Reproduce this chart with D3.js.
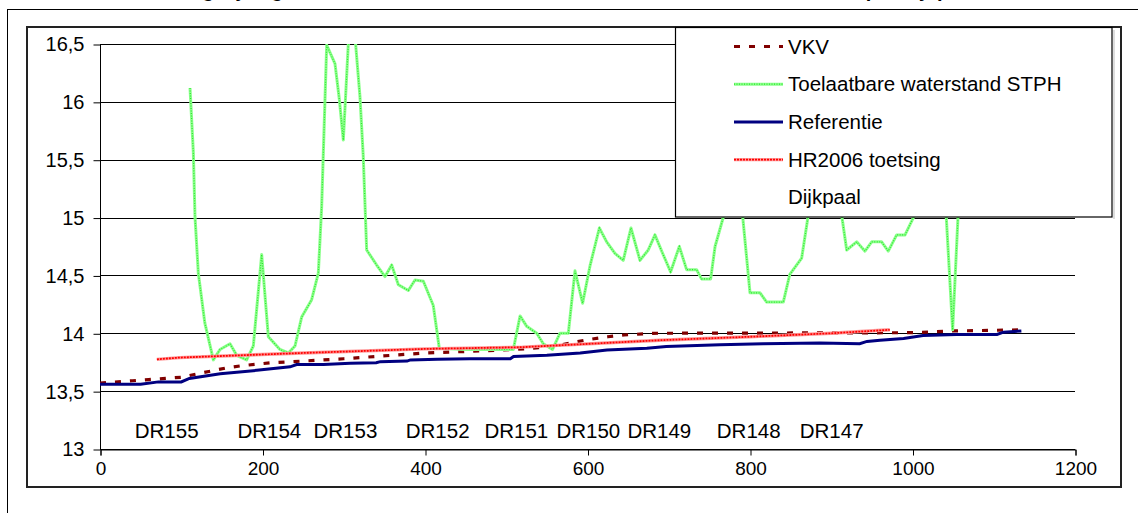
<!DOCTYPE html>
<html>
<head>
<meta charset="utf-8">
<script src="https://cdn.jsdelivr.net/npm/d3@7"></script>
<style>
  html, body { margin: 0; padding: 0; background: #fff; }
  svg { display: block; font-family: "Liberation Sans", Arial, sans-serif; }
</style>
</head>
<body>
<svg id="chart" width="1138" height="513"></svg>
<script>
// ---------- DATA ----------
const titleText = "Vergelijking waterstanden HR2006, VKV en toelaatbare waterstand STPH per dijkpaal";

const xTicks = [0, 200, 400, 600, 800, 1000, 1200];
const yTicks = [13, 13.5, 14, 14.5, 15, 15.5, 16, 16.5];
const yTickLabels = ["13", "13,5", "14", "14,5", "15", "15,5", "16", "16,5"];

const vkvX = [0, 40, 60, 100, 120, 155, 175, 210, 250, 300, 340, 380, 400, 460, 510, 540, 560, 585, 605, 625, 645, 680, 1000, 1050, 1135];
const vkvY = [13.57, 13.59, 13.60, 13.62, 13.65, 13.70, 13.72, 13.745, 13.76, 13.78, 13.80, 13.82, 13.83, 13.845, 13.86, 13.875, 13.89, 13.925, 13.95, 13.97, 13.985, 14.0, 14.005, 14.02, 14.03];

const stphX = [110.8, 114.9, 116.9, 121, 129, 139.5, 147.7, 160, 168.2, 180.5, 188.7, 199, 207.2, 221.5, 231.8, 240, 248.2, 260.5, 268.7, 272.8, 279, 289.2, 294.6, 299.5, 305.6, 310, 314.6, 320, 324, 328.2, 340.5, 350.8, 359, 367.2, 379.5, 387.7, 398, 410.2, 417.6, 450, 480, 508.7, 517, 525.2, 537.5, 545.6, 557, 566, 576.4, 584.6, 594, 603, 614.6, 623.6, 633.8, 644, 653.5, 664.6, 674.8, 683, 691.3, 702.3, 713, 722, 734.3, 740.3, 751.6, 757, 785, 800, 812.3, 820.5, 841, 849, 863.6, 880, 905, 919, 931.3, 941.5, 949.8, 962, 970.2, 980.5, 990.8, 1015, 1040, 1049.4, 1058, 1090, 1134];
const stphY = [16.12, 15.56, 15.01, 14.52, 14.09, 13.77, 13.86, 13.91, 13.81, 13.77, 13.89, 14.68, 13.97, 13.86, 13.83, 13.89, 14.14, 14.29, 14.52, 15.09, 16.49, 16.33, 16.02, 15.67, 16.5, 16.8, 16.5, 16.04, 15.53, 14.72, 14.59, 14.49, 14.59, 14.42, 14.37, 14.46, 14.45, 14.24, 13.87, 13.86, 13.86, 13.86, 14.15, 14.06, 14.0, 13.91, 13.86, 14.0, 14.0, 14.54, 14.26, 14.58, 14.91, 14.79, 14.69, 14.63, 14.91, 14.63, 14.72, 14.85, 14.71, 14.53, 14.75, 14.55, 14.55, 14.47, 14.47, 14.75, 15.45, 14.35, 14.35, 14.27, 14.27, 14.51, 14.65, 15.4, 15.4, 14.72, 14.79, 14.71, 14.79, 14.79, 14.71, 14.85, 14.85, 15.2, 15.2, 14.03, 15.3, 15.3, 15.4];

const refX = [0, 50, 72, 100, 110, 148, 193, 234, 242, 275, 308, 340, 345, 378, 382, 415, 455, 505, 509, 550, 591, 624, 673, 697, 763, 816, 886, 935, 944, 960, 989, 1013, 1054, 1104, 1112, 1134];
const refY = [13.56, 13.56, 13.58, 13.58, 13.61, 13.65, 13.68, 13.71, 13.73, 13.73, 13.74, 13.745, 13.755, 13.76, 13.77, 13.775, 13.78, 13.78, 13.80, 13.81, 13.83, 13.855, 13.87, 13.885, 13.90, 13.91, 13.915, 13.91, 13.93, 13.94, 13.955, 13.98, 13.99, 13.99, 14.01, 14.02];

const hrX = [70, 98, 250, 400, 520, 689, 800, 900, 972];
const hrY = [13.775, 13.79, 13.83, 13.865, 13.88, 13.94, 13.97, 14.0, 14.03];

const dijkpaalNames = ["DR155", "DR154", "DR153", "DR152", "DR151", "DR150", "DR149", "DR148", "DR147"];
const dijkpaalX = [82, 208.4, 302, 415.6, 512.4, 601, 688.4, 798.4, 900.5];
const dijkpaalY = [13.155, 13.155, 13.155, 13.155, 13.155, 13.155, 13.155, 13.155, 13.155];

const legendNames = ["VKV", "Toelaatbare waterstand STPH", "Referentie", "HR2006 toetsing", "Dijkpaal"];

// ---------- DRAW ----------
const svg = d3.select("#chart");
const FONT = 19;
const LFONT = 20.5;

const x = d3.scaleLinear().domain([0, 1200]).range([100, 1075]);
const y = d3.scaleLinear().domain([13, 16.5]).range([449, 44]);

// page lines
svg.append("line").attr("x1", 7.5).attr("x2", 7.5).attr("y1", 9).attr("y2", 513).attr("stroke", "#000").attr("stroke-width", 1);
svg.append("line").attr("x1", 7).attr("x2", 1138).attr("y1", 9.5).attr("y2", 9.5).attr("stroke", "#000").attr("stroke-width", 1);

// title (cut off at the top edge, as in the reference)
svg.append("text").attr("x", 574).attr("y", -3).attr("text-anchor", "middle")
  .attr("font-size", 20).attr("font-weight", "bold").attr("fill", "#000").text(titleText);

// chart frame
svg.append("rect").attr("x", 27).attr("y", 27).attr("width", 1094).attr("height", 460)
  .attr("fill", "none").attr("stroke", "#222").attr("stroke-width", 2);

// gridlines
svg.append("g").selectAll("line").data(yTicks).join("line")
  .attr("x1", x(0)).attr("x2", x(1200))
  .attr("y1", d => Math.round(y(d)) + 0.5).attr("y2", d => Math.round(y(d)) + 0.5)
  .attr("stroke", "#000").attr("stroke-width", 1);

// axes
const yAxis = d3.axisLeft(y).tickValues(yTicks)
  .tickFormat((d, i) => yTickLabels[i]).tickSizeOuter(0).tickSize(7).tickPadding(9);
const gy = svg.append("g").attr("transform", "translate(100.5,0.5)").call(yAxis);
const xAxis = d3.axisBottom(x).tickValues(xTicks).tickFormat(d3.format("d")).tickSizeOuter(0).tickSize(6).tickPadding(6);
const gx = svg.append("g").attr("transform", "translate(0.5,449.5)").call(xAxis);
[gx, gy].forEach(g => {
  g.selectAll("path.domain").attr("stroke", "#000");
  g.selectAll(".tick line").attr("stroke", "#000");
  g.selectAll("text").attr("font-size", FONT).attr("fill", "#000")
    .attr("font-family", "'Liberation Sans', Arial, sans-serif");
});
gy.selectAll("text").attr("font-size", 20);
gy.select("path.domain").attr("d", `M0,${y(16.5) - 0.5}V${y(13)}`);

// clip
svg.append("clipPath").attr("id", "plotclip").append("rect")
  .attr("x", x(0)).attr("y", y(16.5)).attr("width", x(1200) - x(0)).attr("height", y(13) - y(16.5));
const plot = svg.append("g").attr("clip-path", "url(#plotclip)");

const line = d3.line().x(d => x(d[0])).y(d => y(d[1]));
const zip = (a, b) => a.map((v, i) => [v, b[i]]);

// VKV
plot.append("path").datum(zip(vkvX, vkvY)).attr("d", line)
  .attr("fill", "none").attr("stroke", "#800000").attr("stroke-width", 3.2).attr("stroke-dasharray", "6,9");
// STPH (textured light green)
const stph = zip(stphX, stphY);
plot.append("path").datum(stph).attr("d", line)
  .attr("fill", "none").attr("stroke", "#8cff8c").attr("stroke-width", 3).attr("stroke-linejoin", "round");
plot.append("path").datum(stph).attr("d", line)
  .attr("fill", "none").attr("stroke", "#2ee62e").attr("stroke-width", 1.2).attr("stroke-dasharray", "1,1.5");
// Referentie
plot.append("path").datum(zip(refX, refY)).attr("d", line)
  .attr("fill", "none").attr("stroke", "#000080").attr("stroke-width", 3);
// HR2006
const hr = zip(hrX, hrY);
plot.append("path").datum(hr).attr("d", line)
  .attr("fill", "none").attr("stroke", "#ff9a9a").attr("stroke-width", 3.4);
plot.append("path").datum(hr).attr("d", line)
  .attr("fill", "none").attr("stroke", "#ff0000").attr("stroke-width", 1.8).attr("stroke-dasharray", "2,1");

// Dijkpaal labels
svg.append("g").selectAll("text").data(dijkpaalNames).join("text")
  .attr("x", (d, i) => x(dijkpaalX[i])).attr("y", (d, i) => y(dijkpaalY[i]))
  .attr("dy", "0.35em").attr("text-anchor", "middle").attr("font-size", LFONT).attr("fill", "#000").text(d => d);

// Legend
const lg = svg.append("g");
lg.append("rect").attr("x", 1113).attr("y", 30).attr("width", 2).attr("height", 189).attr("fill", "#ddd");
lg.append("rect").attr("x", 675.5).attr("y", 27.5).attr("width", 436.5).attr("height", 189.5)
  .attr("fill", "#fff").attr("stroke", "#000").attr("stroke-width", 1.2);
const ly = i => 46.5 + i * 37.7;
const lx1 = 734, lx2 = 783;
lg.append("line").attr("x1", lx1).attr("x2", lx2).attr("y1", ly(0)).attr("y2", ly(0))
  .attr("stroke", "#800000").attr("stroke-width", 3.2).attr("stroke-dasharray", "6,9");
lg.append("line").attr("x1", lx1).attr("x2", lx2).attr("y1", ly(1)).attr("y2", ly(1))
  .attr("stroke", "#8cff8c").attr("stroke-width", 3);
lg.append("line").attr("x1", lx1).attr("x2", lx2).attr("y1", ly(1)).attr("y2", ly(1))
  .attr("stroke", "#2ee62e").attr("stroke-width", 1.2).attr("stroke-dasharray", "1,1.5");
lg.append("line").attr("x1", lx1).attr("x2", lx2).attr("y1", ly(2)).attr("y2", ly(2))
  .attr("stroke", "#000080").attr("stroke-width", 3);
lg.append("line").attr("x1", lx1).attr("x2", lx2).attr("y1", ly(3)).attr("y2", ly(3))
  .attr("stroke", "#ff9a9a").attr("stroke-width", 3.4);
lg.append("line").attr("x1", lx1).attr("x2", lx2).attr("y1", ly(3)).attr("y2", ly(3))
  .attr("stroke", "#ff0000").attr("stroke-width", 1.8).attr("stroke-dasharray", "2,1");
lg.selectAll("text.lt").data(legendNames).join("text").attr("class", "lt")
  .attr("x", 788).attr("y", (d, i) => ly(i)).attr("dy", "0.35em")
  .attr("font-size", LFONT).attr("fill", "#000").text(d => d);
</script>
</body>
</html>
